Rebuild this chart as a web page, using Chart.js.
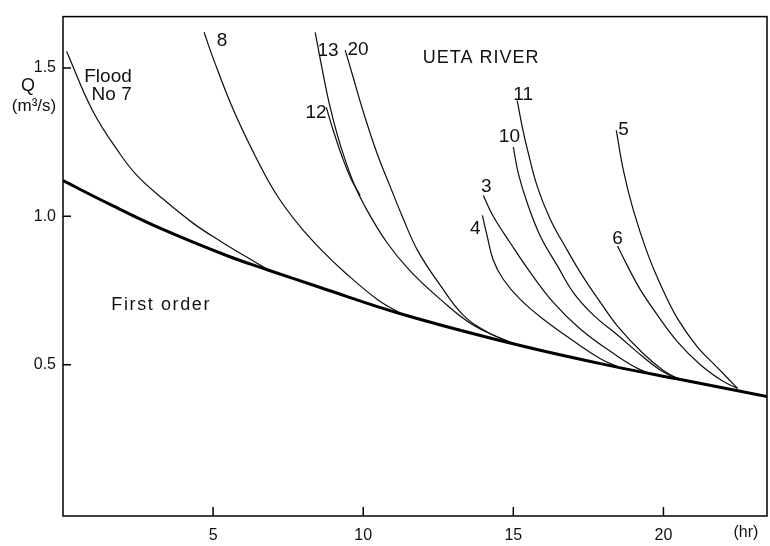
<!DOCTYPE html>
<html>
<head>
<meta charset="utf-8">
<script src="https://cdn.jsdelivr.net/npm/chart.js@4/dist/chart.umd.min.js"></script>
<style>
  html, body { margin: 0; padding: 0; background: #fff; }
  #wrap { width: 770px; height: 546px; position: relative; }
</style>
</head>
<body>
<div id="wrap"><canvas id="c" width="770" height="546"></canvas></div>
<script>
// ---- data (time in hr, discharge Q in m3/s) ----
const firstOrder = [[0,1.12],[1.57,1.04],[3.23,0.96],[5.47,0.867],[6.8,0.82],[8.57,0.76],[11.3,0.67],[15.13,0.567],[18.3,0.495],[20.57,0.45],[23.45,0.393]];
const flood7 = [[0.12,1.555],[1.0,1.353],[1.9,1.21],[2.47,1.137],[3.23,1.067],[4.33,0.977],[5.23,0.917],[6.13,0.862],[6.8,0.822]];
const flood8 = [[4.7,1.62],[5.0,1.533],[5.67,1.36],[6.47,1.19],[7.13,1.07],[7.9,0.965],[8.67,0.88],[9.4,0.81],[10.47,0.72],[11.3,0.67]];
const flood13 = [[8.4,1.62],[8.67,1.477],[8.9,1.367],[9.23,1.243],[9.67,1.115],[10.13,1.02],[10.8,0.91],[11.57,0.815],[12.57,0.72],[13.67,0.633],[15.1,0.567]];
const flood12 = [[8.77,1.367],[9.0,1.29],[9.3,1.2],[9.6,1.125],[9.9,1.07]];
const flood20 = [[9.4,1.56],[9.67,1.467],[10.0,1.353],[10.45,1.215],[10.9,1.1],[11.3,1.0],[11.8,0.887],[12.57,0.767],[13.33,0.667],[14.13,0.61],[15.1,0.567]];
const flood11 = [[15.13,1.39],[15.3,1.3],[15.47,1.225],[15.8,1.1],[16.23,0.99],[16.8,0.885],[17.33,0.795],[17.9,0.71],[18.47,0.63],[19.3,0.54],[20.0,0.48],[20.5,0.452]];
const flood10 = [[15.0,1.233],[15.17,1.143],[15.47,1.043],[15.9,0.933],[16.47,0.833],[17.0,0.743],[17.67,0.667],[18.47,0.6],[19.3,0.528],[20.0,0.475],[20.5,0.452]];
const flood3 = [[14.0,1.07],[14.33,1.0],[14.9,0.91],[15.57,0.81],[16.33,0.71],[17.23,0.62],[18.23,0.545],[19.3,0.48],[20.3,0.453]];
const flood4 = [[13.97,1.003],[14.13,0.933],[14.33,0.853],[14.67,0.787],[15.23,0.72],[16.0,0.653],[16.9,0.587],[17.9,0.52],[18.5,0.492]];
const flood5 = [[18.43,1.29],[18.67,1.153],[19.0,1.02],[19.47,0.875],[19.9,0.77],[20.47,0.655],[21.13,0.56],[21.8,0.49],[22.47,0.42]];
const flood6 = [[18.47,0.9],[18.8,0.833],[19.23,0.753],[19.8,0.667],[20.47,0.577],[21.23,0.5],[22.0,0.443],[22.47,0.42]];

const xTicks = [5, 10, 15, 20];
const yTicks = [0.5, 1.0, 1.5];

// text annotations (anchor in data units)
const annotations = [
  { text: 'Flood', x: 1.5, y: 1.47 },
  { text: 'No 7', x: 1.62, y: 1.41 },
  { text: '8', x: 5.3, y: 1.59 },
  { text: '13', x: 8.83, y: 1.557 },
  { text: '20', x: 9.83, y: 1.56 },
  { text: '12', x: 8.43, y: 1.35 },
  { text: '11', x: 15.33, y: 1.41 },
  { text: '10', x: 14.87, y: 1.267 },
  { text: '3', x: 14.1, y: 1.1 },
  { text: '4', x: 13.73, y: 0.957 },
  { text: '5', x: 18.67, y: 1.293 },
  { text: '6', x: 18.47, y: 0.923 },
  { text: 'UETA RIVER', x: 13.93, y: 1.533, spacing: 1 },
  { text: 'First order', x: 3.27, y: 0.70, spacing: 1.6 }
];

const FONT = '"Liberation Sans", Arial, sans-serif';
const toPts = a => a.map(p => ({ x: p[0], y: p[1] }));

function thin(arr) {
  return { data: toPts(arr), borderColor: '#111', borderWidth: 1.25, showLine: true, pointRadius: 0, tension: 0.4, fill: false };
}

const datasets = [
  { data: toPts(firstOrder), borderColor: '#000', borderWidth: 3, showLine: true, pointRadius: 0, tension: 0.4, fill: false },
  thin(flood7), thin(flood8), thin(flood13), thin(flood12), thin(flood20),
  thin(flood11), thin(flood10), thin(flood3), thin(flood4), thin(flood5), thin(flood6)
];

const framePlugin = {
  id: 'frame',
  afterDraw(chart) {
    const { ctx, chartArea: a, scales: { x, y } } = chart;
    ctx.save();
    ctx.strokeStyle = '#000';
    ctx.lineWidth = 1.5;
    ctx.strokeRect(a.left, a.top, a.right - a.left, a.bottom - a.top);
    ctx.beginPath();
    xTicks.forEach(v => { const px = x.getPixelForValue(v); ctx.moveTo(px, a.bottom); ctx.lineTo(px, a.bottom - 9); });
    yTicks.forEach(v => { const py = y.getPixelForValue(v); ctx.moveTo(a.left, py); ctx.lineTo(a.left + 8, py); });
    ctx.stroke();

    ctx.fillStyle = '#111';
    ctx.textAlign = 'center';
    ctx.textBaseline = 'middle';
    annotations.forEach(an => {
      ctx.letterSpacing = (an.spacing || 0) + 'px';
      ctx.font = (an.spacing ? '18px ' : '19px ') + FONT;
      ctx.fillText(an.text, x.getPixelForValue(an.x), y.getPixelForValue(an.y));
    });
    ctx.letterSpacing = '0px';
    // axis titles
    ctx.font = '18px ' + FONT;
    ctx.fillText('Q', a.left - 35, y.getPixelForValue(1.44));
    ctx.font = '17px ' + FONT;
    ctx.fillText('(m\u00b3/s)', a.left - 29, y.getPixelForValue(1.37));
    ctx.font = '16px ' + FONT;
    ctx.fillText('(hr)', x.getPixelForValue(22.75), a.bottom + 17);
    ctx.restore();
  }
};

new Chart(document.getElementById('c'), {
  type: 'scatter',
  data: { datasets },
  options: {
    responsive: false,
    animation: false,
    events: [],
    layout: { padding: { top: 11, right: 3, left: 0, bottom: 0 } },
    plugins: { legend: { display: false }, tooltip: { enabled: false } },
    scales: {
      x: {
        type: 'linear', min: 0, max: 23.45,
        afterBuildTicks: s => { s.ticks = xTicks.map(v => ({ value: v })); },
        afterFit: s => { s.height = 30; },
        grid: { display: false, drawTicks: false },
        border: { display: false },
        ticks: { color: '#111', font: { size: 16, family: FONT }, padding: 10, maxRotation: 0, autoSkip: false }
      },
      y: {
        type: 'linear', min: -0.01, max: 1.673,
        afterBuildTicks: s => { s.ticks = yTicks.map(v => ({ value: v })); },
        afterFit: s => { s.width = 63; },
        grid: { display: false, drawTicks: false },
        border: { display: false },
        ticks: { color: '#111', font: { size: 16, family: FONT }, padding: 7, autoSkip: false, callback: v => Number(v).toFixed(1) }
      }
    }
  },
  plugins: [framePlugin]
});
</script>
</body>
</html>
